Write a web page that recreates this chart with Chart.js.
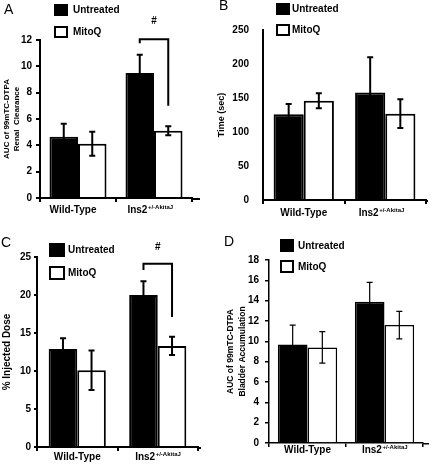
<!DOCTYPE html>
<html>
<head>
<meta charset="utf-8">
<script src="https://cdn.jsdelivr.net/npm/chart.js@4.4.1/dist/chart.umd.min.js"></script>
<style>
  body { margin: 0; background: #fff; }
  #wrap { position: relative; width: 432px; height: 465px; }
  canvas { position: absolute; }
</style>
</head>
<body>
<div id="wrap">
  <canvas id="chartA" width="216" height="230" style="left:0px;top:0px"></canvas>
  <canvas id="chartB" width="216" height="230" style="left:216px;top:0px"></canvas>
  <canvas id="chartC" width="216" height="235" style="left:0px;top:230px"></canvas>
  <canvas id="chartD" width="216" height="235" style="left:216px;top:230px"></canvas>
</div>
<script>
// groups and series
var groups = ['Wild-Type', 'Ins2'];
var groupSup = ['', '+/-AkitaJ'];
var seriesNames = ['Untreated', 'MitoQ'];

// A - renal clearance (AUC)
var renalUntreated = [4.65, 9.5];
var renalUntreatedErr = [0.98, 1.38];
var renalMitoQ = [4.12, 5.11];
var renalMitoQErr = [0.92, 0.34];
var renalBracket = [12.05, 11.75, 7.0, 13.4]; // top, left end, right end, "#"

// B - time (sec)
var timeUntreated = [126, 158];
var timeUntreatedErr = [15, 52];
var timeMitoQ = [146, 127];
var timeMitoQErr = [11, 21];

// C - % injected dose
var doseUntreated = [12.9, 20.0];
var doseUntreatedErr = [1.4, 1.8];
var doseMitoQ = [10.1, 13.3];
var doseMitoQErr = [2.6, 1.2];
var doseBracket = [24.1, 23.3, 17.1, 26.3];

// D - bladder accumulation (AUC)
var bladderUntreated = [9.7, 13.9];
var bladderUntreatedErr = [1.9, 1.9];
var bladderMitoQ = [9.4, 11.6];
var bladderMitoQErr = [1.55, 1.35];

var FONT = "'Liberation Sans', Arial, sans-serif";
Chart.defaults.font.family = FONT;
Chart.defaults.color = '#000';

// error bars on top of each bar
var errorBars = {
  id: 'errorBars',
  afterDatasetsDraw: function(chart, args, opts) {
    var ctx = chart.ctx
    var y = chart.scales.y
    chart.data.datasets.forEach(function(ds, d) {
      chart.getDatasetMeta(d).data.forEach(function(bar, i) {
        var v = ds.data[i], e = ds.errors[i]
        var top = y.getPixelForValue(v + e)
        var bot = y.getPixelForValue(v - e)
        ctx.save()
        ctx.strokeStyle = '#000'
        ctx.lineWidth = opts.width
        ctx.beginPath()
        ctx.moveTo(bar.x, top); ctx.lineTo(bar.x, bot)
        ctx.moveTo(bar.x - opts.cap, top); ctx.lineTo(bar.x + opts.cap, top)
        ctx.moveTo(bar.x - opts.cap, bot); ctx.lineTo(bar.x + opts.cap, bot)
        ctx.stroke()
        ctx.restore()
      })
    })
  }
};

// panel letter, legend, x labels with superscript, significance bracket
var panelDeco = {
  id: 'panelDeco',
  afterDraw: function(chart, args, o) {
    var ctx = chart.ctx
    var area = chart.chartArea
    var x = chart.scales.x, y = chart.scales.y
    ctx.save()
    ctx.fillStyle = '#000'
    ctx.strokeStyle = '#000'

    // letter
    ctx.font = '14px ' + FONT
    ctx.textBaseline = 'middle'
    ctx.textAlign = 'left'
    ctx.fillText(o.letter, o.letterX, o.letterY)

    // x axis line runs a bit past the last tick
    ctx.lineWidth = o.axisWidth
    ctx.beginPath()
    ctx.moveTo(area.right, area.bottom + o.axisWidth / 2)
    ctx.lineTo(area.right + o.axisExt, area.bottom + o.axisWidth / 2)
    ctx.stroke()

    // legend
    ctx.font = 'bold 10px ' + FONT
    chart.data.datasets.forEach(function(ds, d) {
      var bx = o.legendX, by = o.legendY[d]
      ctx.fillStyle = ds.backgroundColor
      ctx.fillRect(bx, by, o.boxW, o.boxH)
      ctx.lineWidth = 2
      ctx.strokeRect(bx + 1, by + 1, o.boxW - 2, o.boxH - 2)
      ctx.fillStyle = '#000'
      ctx.fillText(ds.label, o.legendTextX, by + o.boxH / 2 + 0.5)
    })

    // category labels
    ctx.textAlign = 'left'
    ctx.textBaseline = 'alphabetic'
    groups.forEach(function(g, i) {
      ctx.font = 'bold 10px ' + FONT
      var w1 = ctx.measureText(g).width
      ctx.font = 'bold 6px ' + FONT
      var w2 = groupSup[i] ? ctx.measureText(groupSup[i]).width : 0
      var cx = x.getPixelForValue(i) + o.labelDx[i]
      var sx = cx - (w1 + w2) / 2
      var base = area.bottom + o.labelDy
      ctx.font = 'bold 10px ' + FONT
      ctx.fillText(g, sx, base)
      if (groupSup[i]) {
        ctx.font = 'bold 6px ' + FONT
        ctx.fillText(groupSup[i], sx + w1 + 0.5, base - 4)
      }
    })

    // bracket
    if (o.bracket) {
      var b = o.bracket
      var xl = chart.getDatasetMeta(0).data[1].x
      var xr = chart.getDatasetMeta(1).data[1].x
      var yt = y.getPixelForValue(b[0])
      ctx.lineWidth = 2
      ctx.beginPath()
      ctx.moveTo(xl, y.getPixelForValue(b[1]))
      ctx.lineTo(xl, yt)
      ctx.lineTo(xr, yt)
      ctx.lineTo(xr, y.getPixelForValue(b[2]))
      ctx.stroke()
      ctx.font = 'bold 10px ' + FONT
      ctx.textAlign = 'center'
      ctx.textBaseline = 'middle'
      ctx.fillText('#', (xl + xr) / 2, y.getPixelForValue(b[3]))
    }
    ctx.restore()
  }
};

function makePanel(id, p) {
  var ctx = document.getElementById(id).getContext('2d')
  return new Chart(ctx, {
    type: 'bar',
    data: {
      labels: groups,
      datasets: [{
        label: seriesNames[0],
        data: p.untreated,
        errors: p.untreatedErr,
        backgroundColor: '#000000',
        borderColor: '#000000',
        borderWidth: p.barBorder,
        borderSkipped: 'start',
        barPercentage: 1,
        categoryPercentage: p.catPct
      }, {
        label: seriesNames[1],
        data: p.mitoq,
        errors: p.mitoqErr,
        backgroundColor: '#ffffff',
        borderColor: '#000000',
        borderWidth: p.barBorder,
        borderSkipped: 'start',
        barPercentage: 1,
        categoryPercentage: p.catPct
      }]
    },
    options: {
      responsive: false,
      animation: false,
      events: [],
      layout: { padding: { left: 0, top: p.area[1], right: p.w - p.area[2], bottom: 0 } },
      scales: {
        x: {
          offset: true,
          grid: { offset: true, drawOnChartArea: false, drawTicks: true, tickLength: 4, color: '#000', lineWidth: p.axisWidth },
          border: { display: true, color: '#000', width: p.axisWidth },
          ticks: { display: false },
          afterFit: function(s) { s.height = p.h - p.area[3] }
        },
        y: {
          min: 0,
          max: p.max,
          ticks: { stepSize: p.step, padding: p.tickPad, font: { size: 10, weight: 'bold' }, color: '#000' },
          grid: { drawOnChartArea: false, drawTicks: true, tickLength: p.tickLen, color: '#000', lineWidth: p.axisWidth },
          border: { display: true, color: '#000', width: p.axisWidth },
          title: {
            display: true,
            text: p.title,
            color: '#000',
            padding: { top: p.titlePad, bottom: 0 },
            font: { size: p.titleSize, weight: 'bold', lineHeight: p.titleLH }
          },
          afterFit: function(s) { s.width = p.area[0] }
        }
      },
      plugins: {
        legend: { display: false },
        tooltip: { enabled: false },
        errorBars: { width: p.errWidth, cap: 3 },
        panelDeco: p.deco
      }
    },
    plugins: [errorBars, panelDeco]
  })
}

makePanel('chartA', {
  w: 216, h: 230, area: [40, 40, 192, 198],
  untreated: renalUntreated, untreatedErr: renalUntreatedErr,
  mitoq: renalMitoQ, mitoqErr: renalMitoQErr,
  max: 12, step: 2, catPct: 0.75, barBorder: 2, axisWidth: 2, errWidth: 2,
  tickLen: 4, tickPad: 4,
  title: ['AUC of 99mTC-DTPA', 'Renal  Clearance'], titleSize: 8, titleLH: 1.25, titlePad: 2,
  deco: { letter: 'A', letterX: 4, letterY: 10, axisExt: 8, axisWidth: 2,
    legendX: 54, legendY: [4, 26], boxW: 14, boxH: 12, legendTextX: 73,
    labelDx: [-5, -4], labelDy: 15, bracket: renalBracket }
})

makePanel('chartB', {
  w: 216, h: 230, area: [47, 30, 210, 200],
  untreated: timeUntreated, untreatedErr: timeUntreatedErr,
  mitoq: timeMitoQ, mitoqErr: timeMitoQErr,
  max: 250, step: 50, catPct: 0.74, barBorder: 2, axisWidth: 2, errWidth: 2,
  tickLen: 0, tickPad: 14,
  title: 'Time (sec)', titleSize: 9, titleLH: 1.2, titlePad: 0,
  deco: { letter: 'B', letterX: 3, letterY: 6, axisExt: 2, axisWidth: 2,
    legendX: 60, legendY: [3, 24], boxW: 14, boxH: 12, legendTextX: 76,
    labelDx: [0, -4], labelDy: 16, bracket: null }
})

makePanel('chartC', {
  w: 216, h: 235, area: [37, 27, 198, 217],
  untreated: doseUntreated, untreatedErr: doseUntreatedErr,
  mitoq: doseMitoQ, mitoqErr: doseMitoQErr,
  max: 25, step: 5, catPct: 0.71, barBorder: 2, axisWidth: 2, errWidth: 2,
  tickLen: 3, tickPad: 3,
  title: '% Injected Dose', titleSize: 10, titleLH: 1.2, titlePad: 1,
  deco: { letter: 'C', letterX: 1, letterY: 13, axisExt: 3, axisWidth: 2,
    legendX: 49, legendY: [13, 36], boxW: 16, boxH: 14, legendTextX: 68,
    labelDx: [0, 0], labelDy: 13, bracket: doseBracket }
})

makePanel('chartD', {
  w: 216, h: 235, area: [53, 30, 207, 213],
  untreated: bladderUntreated, untreatedErr: bladderUntreatedErr,
  mitoq: bladderMitoQ, mitoqErr: bladderMitoQErr,
  max: 18, step: 2, catPct: 0.77, barBorder: 1.5, axisWidth: 1.5, errWidth: 1.2,
  tickLen: 4, tickPad: 6,
  title: ['AUC of 99mTC-DTPA', 'Bladder Accumulation'], titleSize: 8.5, titleLH: 1.4, titlePad: 9,
  deco: { letter: 'D', letterX: 8, letterY: 12, axisExt: 6, axisWidth: 1.5,
    legendX: 64, legendY: [9, 30], boxW: 14, boxH: 13, legendTextX: 82,
    labelDx: [0, 0], labelDy: 10, bracket: null }
})
</script>
</body>
</html>
